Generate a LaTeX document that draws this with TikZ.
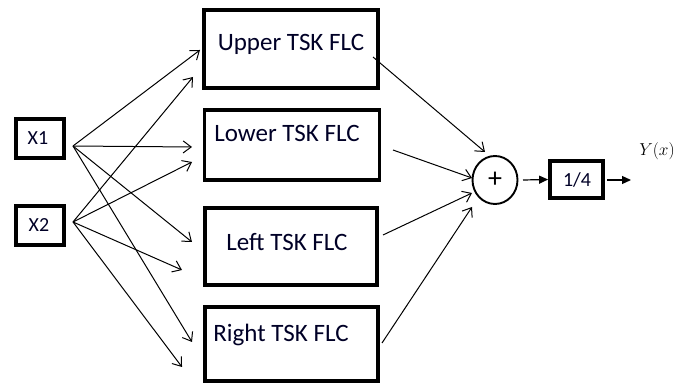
\documentclass[tikz,border=0pt]{standalone}
\usepackage{fontspec}
\setmainfont{Carlito}
\usetikzlibrary{arrows.meta,shapes.geometric}
\begin{document}
\begin{tikzpicture}[x=1pt,y=-1pt,
  blk/.style={draw,line width=3.8pt,inner sep=0pt},
  big/.style={font=\fontsize{25}{28}\selectfont,inner sep=0pt,text=black!85!blue},
  small/.style={font=\fontsize{20}{23}\selectfont,inner sep=0pt,text=black!85!blue},
  inp/.style={line width=1pt,-{Straight Barb[length=8pt,width=12pt,line width=1pt]}},
  fil/.style={line width=1.2pt,-{Triangle[length=9pt,width=8pt]}}]
\useasboundingbox (0,0) rectangle (675,387);
% input boxes
\node[blk,minimum width=48pt,minimum height=39pt] (x1) at (40,138.5) {};
\node[small] (x1t) at (38,138) {X1};
\node[blk,minimum width=48pt,minimum height=39pt] (x2) at (40,225.5) {};
\node[small] (x2t) at (39,225) {X2};
% FLC boxes
\node[blk,minimum width=174pt,minimum height=78pt] (ub) at (291,49) {};
\node[big] (ubt) at (291,44) {Upper TSK FLC};
\node[blk,minimum width=175pt,minimum height=70pt] (lb) at (292,145) {};
\node[big] (lbt) at (287,133) {Lower TSK FLC};
\node[blk,minimum width=172pt,minimum height=77pt] (fb) at (291,246.5) {};
\node[big] (fbt) at (287,242) {Left TSK FLC};
\node[blk,minimum width=173pt,minimum height=74pt] (rb) at (291.5,344) {};
\node[big] (rbt) at (281,335) {Right TSK FLC};
% sum, gain
\node[draw,ellipse,line width=1.9pt,minimum width=45pt,minimum height=48pt,inner sep=0pt] (sum) at (495,180) {};
\node[font=\fontsize{28}{30}\selectfont,inner sep=0pt] (sumt) at (495,180) {+};
\node[blk,minimum width=53pt,minimum height=37pt] (g) at (576.5,179.5) {};
\node[small] (gt) at (577,180) {1/4};
\node[inner sep=0pt,font=\fontsize{17}{19}\selectfont] (y) at (657,151) {$Y(x)$};
% coordinates
\coordinate (x1o) at (73,146);
\coordinate (x2o) at (73,222);
\coordinate (u1) at (200,50);
\coordinate (u2) at (193,77);
\coordinate (l1) at (192,147);
\coordinate (l2) at (192,162);
\coordinate (f1) at (192,242);
\coordinate (f2) at (182,270);
\coordinate (r1) at (192,342);
\coordinate (r2) at (182,367);
\coordinate (uo) at (373,57);
\coordinate (lo) at (393,150);
\coordinate (fo) at (383,235);
\coordinate (ro) at (382,343);
\coordinate (su) at (485,152);
\coordinate (sl) at (472,178);
\coordinate (sf) at (472,193);
\coordinate (sr) at (472,207);
\coordinate (so) at (523,180);
\coordinate (go) at (607,180);
\coordinate (yo) at (631,180);
% input connectors
\draw[inp] (x1o) -- (u1);
\draw[inp] (x2o) -- (u2);
\draw[inp] (x1o) -- (l1);
\draw[inp] (x2o) -- (l2);
\draw[inp] (x1o) -- (f1);
\draw[inp] (x2o) -- (f2);
\draw[inp] (x1o) -- (r1);
\draw[inp] (x2o) -- (r2);
% outputs to sum
\draw[inp] (uo) -- (su);
\draw[inp] (lo) -- (sl);
\draw[inp] (fo) -- (sf);
\draw[inp] (ro) -- (sr);
\draw[fil] (so) -- (g.west);
\draw[fil] (go) -- (yo);
\end{tikzpicture}
\end{document}
